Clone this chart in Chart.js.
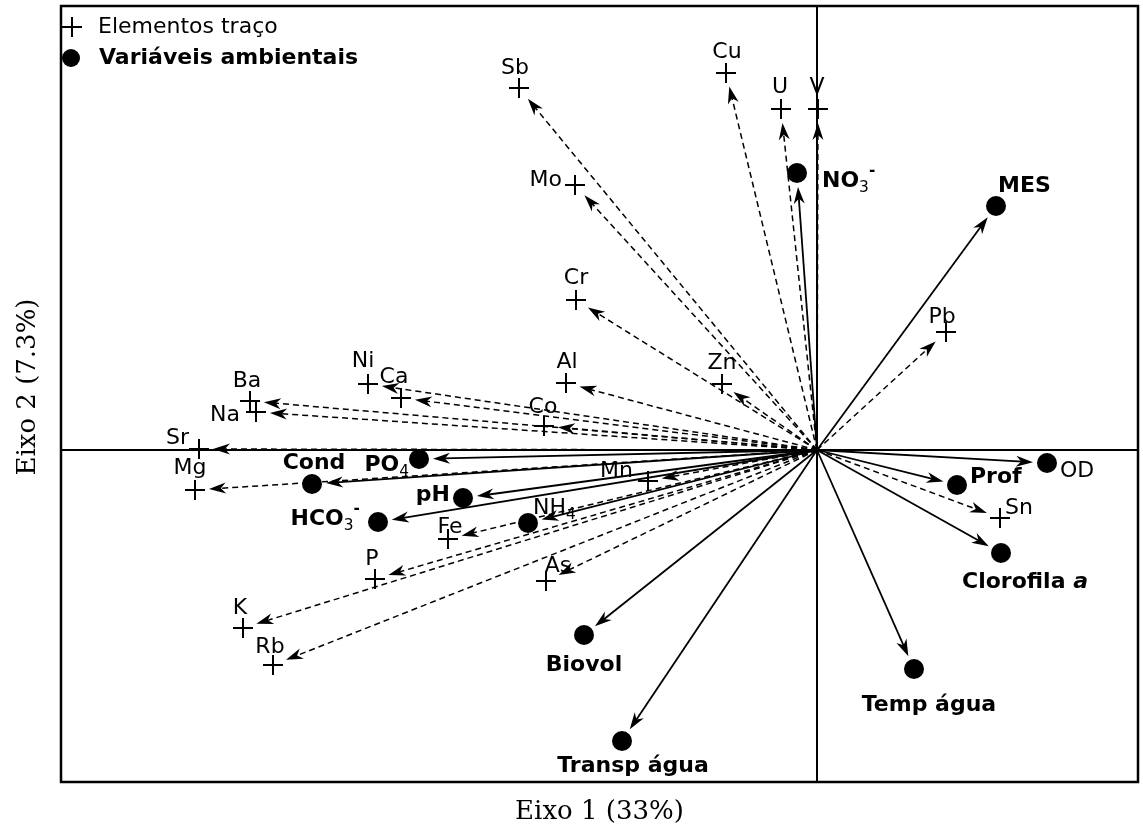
<!DOCTYPE html>
<html>
<head>
<meta charset="utf-8">
<script src="https://cdn.jsdelivr.net/npm/chart.js@4.4.1/dist/chart.umd.min.js"></script>
<style>
  html, body { margin: 0; padding: 0; background: #fff; }
  canvas { display: block; }
</style>
</head>
<body>
<canvas id="chart" width="1143" height="834"></canvas>
<script>
// trace elements (crosses, dashed arrows)
const traceNames = ['Sb', 'Mo', 'Cu', 'U', 'V', 'Cr', 'Pb', 'Zn', 'Al', 'Co', 'Ni', 'Ca', 'Ba', 'Na',
  'Sr', 'Mg', 'Mn', 'Fe', 'P', 'As', 'K', 'Rb', 'Sn'];
const traceX = [-2.98, -2.42, -0.91, -0.36, 0.01, -2.41, 1.29, -0.95, -2.51, -2.73, -4.49, -4.16, -5.67, -5.61,
  -6.18, -6.22, -1.69, -3.69, -4.42, -2.71, -5.74, -5.44, 1.83];
const traceY = [3.62, 2.65, 3.77, 3.41, 3.41, 1.50, 1.18, 0.66, 0.67, 0.24, 0.66, 0.52, 0.49, 0.38,
  0.01, -0.40, -0.31, -0.89, -1.29, -1.31, -1.78, -2.15, -0.68];

// environmental variables (dots, solid arrows)
const envNames = ['NO₃⁻', 'MES', 'OD', 'Prof', 'Clorofila a', 'Temp água', 'Transp água', 'Biovol',
  'NH₄', 'pH', 'HCO₃⁻', 'Cond', 'PO₄'];
const envX = [-0.20, 1.79, 2.30, 1.40, 1.84, 0.97, -1.95, -2.33, -2.89, -3.54, -4.39, -5.05, -3.98];
const envY = [2.77, 2.44, -0.13, -0.35, -1.03, -2.19, -2.91, -1.85, -0.73, -0.48, -0.72, -0.34, -0.09];

const legendLabels = ['Elementos traço', 'Variáveis ambientais'];
const axisTitles = ['Eixo 1 (33%)', 'Eixo 2 (7.3%)'];

// label placement: [dx, dy, align] in pixels from the marker
const labelPos = {
  Sb: [-4, -20, 'center'], Mo: [-13, -5, 'right'], Cu: [1, -21, 'center'], U: [-1, -22, 'center'],
  V: [-1, -22, 'center'], Cr: [0, -22, 'center'], Pb: [-4, -15, 'center'], Zn: [0, -21, 'center'],
  Al: [1, -21, 'center'], Co: [-1, -19, 'center'], Ni: [-5, -23, 'center'], Ca: [-7, -21, 'center'],
  Ba: [-3, -20, 'center'], Na: [-16, 3, 'right'], Sr: [-10, -11, 'right'], Mg: [-5, -22, 'center'],
  Mn: [-15, -10, 'right'], Fe: [2, -12, 'center'], P: [-3, -20, 'center'], As: [12, -15, 'center'],
  K: [-3, -20, 'center'], Rb: [-3, -18, 'center'], Sn: [5, -10, 'left'],
  'NO₃⁻': [25, 8, 'left'], MES: [2, -20, 'left'], OD: [13, 8, 'left'], Prof: [13, -8, 'left'],
  'Clorofila a': [24, 29, 'center'], 'Temp água': [15, 36, 'center'], 'Transp água': [11, 25, 'center'],
  Biovol: [0, 30, 'center'], 'NH₄': [5, -15, 'left'], pH: [-13, -3, 'right'], 'HCO₃⁻': [-18, -3, 'right'],
  Cond: [2, -21, 'center'], 'PO₄': [-10, 6, 'right']
};
const plainEnv = ['OD', 'NH₄'];

const FONT = '"DejaVu Sans"';
const SIZE = 22;
const SUB = { '₃': '3', '₄': '4' };
const SUP = { '⁻': '-' };

function drawArrow(ctx, x0, y0, x1, y1, dashed) {
  const dx = x1 - x0, dy = y1 - y0;
  const len = Math.hypot(dx, dy);
  const ux = dx / len, uy = dy / len;
  const gap = 14, L = 17, w = 5.5;
  const ex = x1 - ux * gap, ey = y1 - uy * gap;
  ctx.save();
  ctx.strokeStyle = '#000';
  ctx.lineWidth = dashed ? 1.5 : 1.8;
  ctx.setLineDash(dashed ? [6, 4] : []);
  ctx.beginPath();
  ctx.moveTo(x0, y0);
  ctx.lineTo(ex - ux * L * 0.6, ey - uy * L * 0.6);
  ctx.stroke();
  ctx.setLineDash([]);
  // barbed head
  const bx = ex - ux * L, by = ey - uy * L;
  const nx = -uy, ny = ux;
  ctx.fillStyle = '#000';
  ctx.beginPath();
  ctx.moveTo(ex, ey);
  ctx.lineTo(bx + nx * w, by + ny * w);
  ctx.lineTo(ex - ux * L * 0.7, ey - uy * L * 0.7);
  ctx.lineTo(bx - nx * w, by - ny * w);
  ctx.closePath();
  ctx.fill();
  ctx.restore();
}

// split a label into runs: normal, subscript, superscript, italic tail
function runsOf(name, bold) {
  const b = bold ? 'bold ' : '';
  const big = b + SIZE + 'px ' + FONT;
  const small = SIZE * 0.7 + 'px ' + FONT;
  if (name === 'Clorofila a') {
    return [{ t: 'Clorofila ', f: big, dy: 0 }, { t: 'a', f: 'italic ' + big, dy: 0 }];
  }
  const runs = [];
  for (const ch of name) {
    let r;
    if (SUB[ch]) r = { t: SUB[ch], f: small, dy: 7 };
    else if (SUP[ch]) r = { t: SUP[ch], f: 'bold ' + small, dy: -10 };
    else r = { t: ch, f: big, dy: 0 };
    const last = runs[runs.length - 1];
    if (last && last.f === r.f && last.dy === r.dy) last.t += r.t;
    else runs.push(r);
  }
  return runs;
}

function drawLabel(ctx, name, px, py, bold) {
  const p = labelPos[name] || [0, -20, 'center'];
  const x = px + p[0], y = py + p[1];
  const runs = runsOf(name, bold);
  ctx.save();
  ctx.fillStyle = '#000';
  ctx.textBaseline = 'middle';
  ctx.textAlign = 'left';
  let total = 0;
  runs.forEach(r => { ctx.font = r.f; r.w = ctx.measureText(r.t).width; total += r.w; });
  let sx = p[2] === 'left' ? x : p[2] === 'right' ? x - total : x - total / 2;
  runs.forEach(r => {
    ctx.font = r.f;
    ctx.fillText(r.t, sx, y + r.dy);
    sx += r.w;
  });
  ctx.restore();
}

const biplotPlugin = {
  id: 'biplot',
  beforeDatasetsDraw(chart) {
    const ctx = chart.ctx;
    const xs = chart.scales.x, ys = chart.scales.y;
    const a = chart.chartArea;
    const ox = xs.getPixelForValue(0), oy = ys.getPixelForValue(0);
    // zero axes
    ctx.save();
    ctx.strokeStyle = '#000';
    ctx.lineWidth = 2;
    ctx.beginPath();
    ctx.moveTo(a.left, oy); ctx.lineTo(a.right, oy);
    ctx.moveTo(ox, a.top); ctx.lineTo(ox, a.bottom);
    ctx.stroke();
    ctx.restore();
    traceNames.forEach((n, i) => {
      drawArrow(ctx, ox, oy, xs.getPixelForValue(traceX[i]), ys.getPixelForValue(traceY[i]), true);
    });
    envNames.forEach((n, i) => {
      drawArrow(ctx, ox, oy, xs.getPixelForValue(envX[i]), ys.getPixelForValue(envY[i]), false);
    });
  },
  afterDatasetsDraw(chart) {
    const ctx = chart.ctx;
    const xs = chart.scales.x, ys = chart.scales.y;
    const a = chart.chartArea;
    traceNames.forEach((n, i) => {
      drawLabel(ctx, n, xs.getPixelForValue(traceX[i]), ys.getPixelForValue(traceY[i]), false);
    });
    envNames.forEach((n, i) => {
      drawLabel(ctx, n, xs.getPixelForValue(envX[i]), ys.getPixelForValue(envY[i]), !plainEnv.includes(n));
    });

    ctx.save();
    // frame
    ctx.strokeStyle = '#000';
    ctx.lineWidth = 2.5;
    ctx.strokeRect(a.left, a.top, a.right - a.left, a.bottom - a.top);

    // legend inside the top-left corner
    const lx = a.left + 10;
    ctx.lineWidth = 2;
    ctx.beginPath();
    ctx.moveTo(lx - 9, a.top + 21); ctx.lineTo(lx + 11, a.top + 21);
    ctx.moveTo(lx + 1, a.top + 11); ctx.lineTo(lx + 1, a.top + 31);
    ctx.stroke();
    ctx.fillStyle = '#000';
    ctx.beginPath();
    ctx.arc(lx, a.top + 52, 9, 0, Math.PI * 2);
    ctx.fill();
    ctx.textBaseline = 'middle';
    ctx.textAlign = 'left';
    ctx.font = SIZE + 'px ' + FONT;
    ctx.fillText(legendLabels[0], a.left + 37, a.top + 21);
    ctx.font = 'bold ' + SIZE + 'px ' + FONT;
    ctx.fillText(legendLabels[1], a.left + 38, a.top + 52);

    // axis titles
    ctx.font = '26px "DejaVu Serif"';
    ctx.textAlign = 'center';
    ctx.fillText(axisTitles[0], (a.left + a.right) / 2, 812);
    ctx.translate(28, 387);
    ctx.rotate(-Math.PI / 2);
    ctx.fillText(axisTitles[1], 0, 0);
    ctx.restore();
  }
};

new Chart(document.getElementById('chart').getContext('2d'), {
  type: 'scatter',
  data: {
    datasets: [
      {
        label: legendLabels[0],
        data: traceX.map((x, i) => ({ x, y: traceY[i] })),
        pointStyle: 'cross',
        pointRadius: 10,
        borderColor: '#000',
        borderWidth: 2,
        backgroundColor: '#000'
      },
      {
        label: legendLabels[1],
        data: envX.map((x, i) => ({ x, y: envY[i] })),
        pointStyle: 'circle',
        pointRadius: 10,
        borderColor: '#000',
        borderWidth: 0,
        backgroundColor: '#000'
      }
    ]
  },
  options: {
    responsive: false,
    animation: false,
    layout: { autoPadding: false, padding: { left: 61, right: 5, top: 6, bottom: 52 } },
    scales: {
      x: { type: 'linear', display: false, min: -7.56, max: 3.21 },
      y: { type: 'linear', display: false, min: -3.32, max: 4.44 }
    },
    plugins: {
      legend: { display: false },
      tooltip: { enabled: false }
    }
  },
  plugins: [biplotPlugin]
});
</script>
</body>
</html>
